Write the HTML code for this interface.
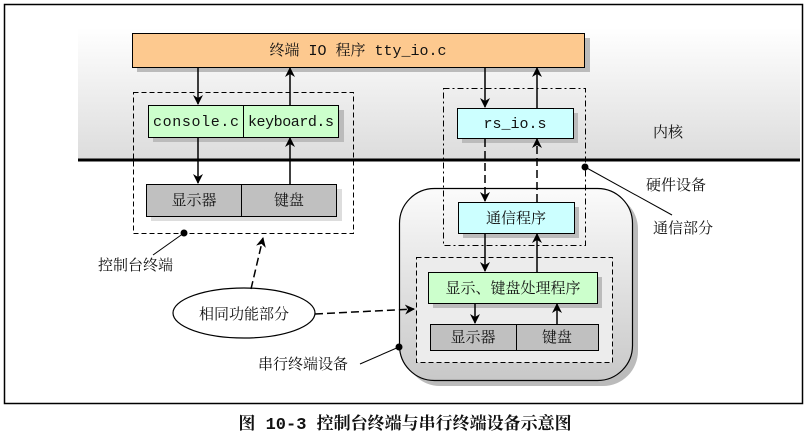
<!DOCTYPE html>
<html><head><meta charset="utf-8"><style>
body{margin:0;background:#fff}
svg{display:block}
text{font-family:"Liberation Mono","Noto Serif CJK SC",monospace;font-size:15px;fill:#111}
</style></head><body>
<svg width="810" height="439" viewBox="0 0 810 439" xmlns="http://www.w3.org/2000/svg">
<defs>
<linearGradient id="k" x1="0" y1="0" x2="0" y2="1"><stop offset="0" stop-color="#fff"/><stop offset="1" stop-color="#dcdcdc"/></linearGradient>
<linearGradient id="r" x1="0" y1="0" x2="0" y2="1"><stop offset="0" stop-color="#fbfbfb"/><stop offset="1" stop-color="#c8c8c8"/></linearGradient>
<marker id="a" markerWidth="10" markerHeight="10" refX="9" refY="5" orient="auto" markerUnits="userSpaceOnUse"><path d="M0,0 L10,5 L0,10 L3,5 Z" fill="#000"/></marker>
</defs>
<rect x="4.5" y="4.5" width="798" height="399" fill="#fff" stroke="#000" stroke-width="1.5"/>
<rect x="78" y="28" width="722" height="132" fill="url(#k)"/>
<line x1="78" y1="160" x2="800" y2="160" stroke="#000" stroke-width="3"/>
<text x="668" y="137" text-anchor="middle">内核</text>
<rect x="137" y="38" width="453" height="34" fill="#bbb"/>
<rect x="132.5" y="33.5" width="452" height="34" fill="#fdc98f" stroke="#000"/>
<text x="358" y="55" text-anchor="middle">终端 IO 程序 tty_io.c</text>
<rect x="133.5" y="92.5" width="220" height="141" fill="none" stroke="#000" stroke-dasharray="5,3"/>
<rect x="153" y="110" width="191" height="32" fill="#bbb"/>
<rect x="148.5" y="105.5" width="95" height="32" fill="#ccffcc" stroke="#000"/>
<rect x="243.5" y="105.5" width="95" height="32" fill="#ccffcc" stroke="#000"/>
<text x="196" y="126" text-anchor="middle" textLength="86">console.c</text>
<text x="291" y="126" text-anchor="middle" textLength="86">keyboard.s</text>
<rect x="151" y="189" width="191" height="32" fill="#ddd"/>
<rect x="146.5" y="184.5" width="95" height="32" fill="#c0c0c0" stroke="#000"/>
<rect x="241.5" y="184.5" width="95" height="32" fill="#c0c0c0" stroke="#000"/>
<text x="194" y="205" text-anchor="middle">显示器</text>
<text x="289" y="205" text-anchor="middle">键盘</text>
<g stroke="#000" stroke-width="1.5">
<line x1="198" y1="67" x2="198" y2="104" marker-end="url(#a)"/>
<line x1="290" y1="105" x2="290" y2="68" marker-end="url(#a)"/>
<line x1="198" y1="138" x2="198" y2="183" marker-end="url(#a)"/>
<line x1="290" y1="184" x2="290" y2="138" marker-end="url(#a)"/>
</g>
<circle cx="184" cy="233" r="3.5"/>
<line x1="184" y1="233" x2="153" y2="255" stroke="#000"/>
<text x="98" y="270">控制台终端</text>
<rect x="405" y="194" width="233" height="192" rx="35" fill="#bbb"/>
<rect x="399.5" y="188.5" width="233" height="192" rx="35" fill="url(#r)" stroke="#000" stroke-width="1.2"/>
<rect x="443.5" y="88.5" width="142" height="157" fill="none" stroke="#000" stroke-dasharray="6,3,2,3"/>
<rect x="462" y="113" width="116" height="30" fill="#bbb"/>
<rect x="457.5" y="108.5" width="116" height="30" fill="#ccffff" stroke="#000"/>
<text x="515" y="128" text-anchor="middle">rs_io.s</text>
<rect x="463" y="207" width="116" height="31" fill="#bbb"/>
<rect x="458.5" y="202.5" width="116" height="31" fill="#ccffff" stroke="#000"/>
<text x="516" y="223" text-anchor="middle">通信程序</text>
<rect x="416.5" y="257.5" width="196" height="105" fill="#ececec" stroke="#000" stroke-dasharray="5,3"/>
<rect x="433" y="277" width="169" height="31" fill="#bbb"/>
<rect x="428.5" y="272.5" width="169" height="31" fill="#ccffcc" stroke="#000"/>
<text x="513" y="293" text-anchor="middle">显示、键盘处理程序</text>
<rect x="430.5" y="324.5" width="86" height="26" fill="#c0c0c0" stroke="#000"/>
<rect x="516.5" y="324.5" width="82" height="26" fill="#c0c0c0" stroke="#000"/>
<text x="473" y="342" text-anchor="middle">显示器</text>
<text x="557" y="342" text-anchor="middle">键盘</text>
<g stroke="#000" stroke-width="1.5">
<line x1="485" y1="67" x2="485" y2="107" marker-end="url(#a)"/>
<line x1="537" y1="108" x2="537" y2="68" marker-end="url(#a)"/>
<line x1="485" y1="139" x2="485" y2="201" stroke-dasharray="8,4" marker-end="url(#a)"/>
<line x1="537" y1="202" x2="537" y2="139" stroke-dasharray="8,4" marker-end="url(#a)"/>
<line x1="485" y1="234" x2="485" y2="271" marker-end="url(#a)"/>
<line x1="537" y1="272" x2="537" y2="234" marker-end="url(#a)"/>
<line x1="475" y1="304" x2="475" y2="323" marker-end="url(#a)"/>
<line x1="557" y1="324" x2="557" y2="304" marker-end="url(#a)"/>
</g>
<circle cx="585" cy="167" r="3.5"/>
<line x1="585" y1="167" x2="672" y2="215" stroke="#000"/>
<text x="646" y="190">硬件设备</text>
<text x="653" y="233">通信部分</text>
<circle cx="399" cy="347" r="3.5"/>
<line x1="399" y1="347" x2="360" y2="364" stroke="#000"/>
<text x="258" y="369">串行终端设备</text>
<ellipse cx="244" cy="313" rx="71" ry="25" fill="#fff" stroke="#000" stroke-width="1.2"/>
<text x="244" y="319" text-anchor="middle">相同功能部分</text>
<g stroke="#000" stroke-width="1.5" stroke-dasharray="8,4">
<line x1="251" y1="289" x2="263" y2="238" marker-end="url(#a)"/>
<line x1="315" y1="314" x2="414" y2="309" marker-end="url(#a)"/>
</g>
<text x="405" y="429" text-anchor="middle" style="font-size:17px;font-weight:bold">图 10-3 控制台终端与串行终端设备示意图</text>
</svg>
</body></html>
